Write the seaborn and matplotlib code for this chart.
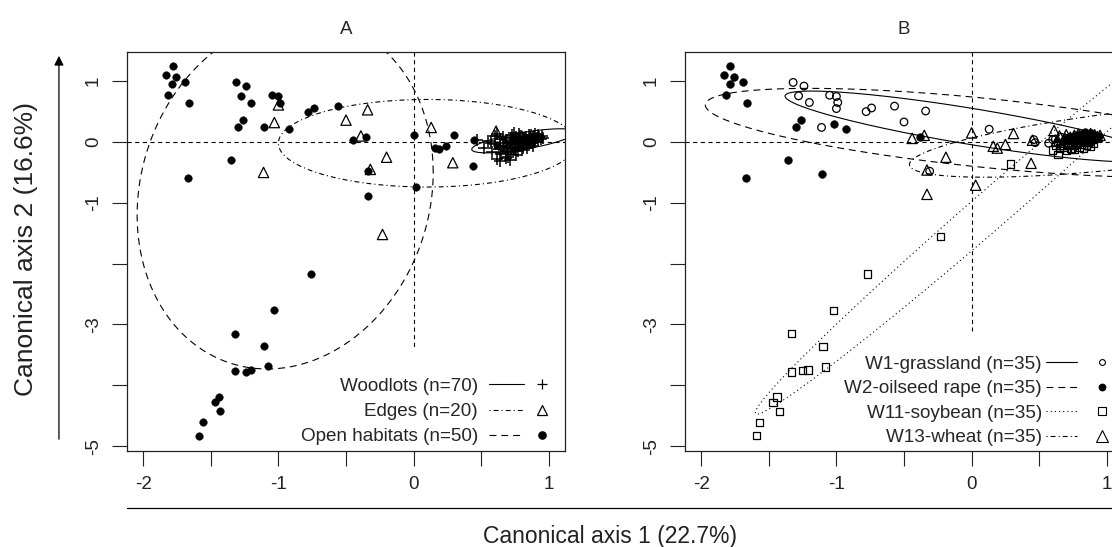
import numpy as np
import matplotlib
matplotlib.use("Agg")
import matplotlib.pyplot as plt
import seaborn as sns
from matplotlib.lines import Line2D
from matplotlib.patches import FancyArrowPatch
from matplotlib.legend_handler import HandlerTuple

# ---------------- panel A : habitats ----------------
woodlots_x = [0.47, 0.52, 0.55, 0.58, 0.60, 0.62, 0.63, 0.64, 0.65, 0.66,
              0.67, 0.68, 0.68, 0.69, 0.70, 0.71, 0.72, 0.72, 0.73, 0.74,
              0.75, 0.75, 0.76, 0.77, 0.77, 0.78, 0.79, 0.79, 0.80, 0.81,
              0.81, 0.82, 0.82, 0.83, 0.83, 0.84, 0.85, 0.85, 0.86, 0.86,
              0.87, 0.87, 0.88, 0.88, 0.89, 0.89, 0.90, 0.90, 0.91, 0.92,
              0.92, 0.93, 0.94, 0.95, 0.96, 0.64, 0.66, 0.70, 0.73, 0.76,
              0.60, 0.68, 0.78, 0.84, 0.88, 0.71, 0.80, 0.57, 0.62, 0.74]
woodlots_y = [0.03, -0.10, 0.01, -0.16, -0.04, -0.28, -0.12, 0.05, -0.20, -0.08,
              -0.02, -0.14, 0.04, -0.06, -0.18, 0.00, -0.10, 0.06, -0.04, -0.12,
              0.02, -0.08, 0.08, -0.02, -0.15, 0.04, -0.06, 0.10, 0.00, -0.09,
              0.06, 0.02, -0.04, 0.09, -0.01, 0.04, 0.11, -0.05, 0.07, 0.01,
              0.12, -0.02, 0.08, 0.03, 0.10, 0.05, 0.13, 0.00, 0.07, 0.11,
              0.03, 0.08, 0.05, 0.10, 0.07, -0.32, 0.09, -0.24, 0.12, -0.22,
              0.10, -0.26, 0.13, -0.10, -0.06, -0.30, -0.13, -0.02, 0.14, 0.15]

edges_x = [-1.00, -1.03, -1.11, -0.50, -0.34, -0.39, -0.32, -0.20, -0.23, 0.13,
           0.29, 0.61, 0.66, 0.70, 0.74, 0.78, 0.82, 0.86, 0.72, 0.80]
edges_y = [0.61, 0.32, -0.50, 0.36, 0.53, 0.10, -0.45, -0.25, -1.52, 0.24,
           -0.34, 0.18, 0.02, -0.08, 0.05, -0.03, 0.08, 0.04, -0.12, 0.10]

open_x = [-1.78, -1.83, -1.76, -1.79, -1.69, -1.82, -1.66, -1.31, -1.24, -1.28,
          -1.20, -1.26, -1.30, -1.11, -1.05, -1.00, -0.99, -0.92, -0.78, -0.74,
          -0.56, -0.45, -0.35, -1.35, -1.67, -0.34, -0.34, 0.00, 0.02, 0.16,
          0.19, 0.24, 0.30, 0.44, 0.45, -0.76, -1.03, -1.32, -1.11, -1.08,
          -1.32, -1.24, -1.20, -1.44, -1.47, -1.43, -1.56, -1.59, 0.62, 0.75]
open_y = [1.25, 1.10, 1.07, 0.95, 0.98, 0.77, 0.65, 0.98, 0.92, 0.76,
          0.65, 0.36, 0.24, 0.24, 0.77, 0.75, 0.65, 0.21, 0.50, 0.56,
          0.59, 0.03, 0.09, -0.30, -0.59, -0.48, -0.89, 0.12, -0.74, -0.09,
          -0.12, -0.06, 0.12, -0.39, 0.03, -2.17, -2.76, -3.15, -3.36, -3.68,
          -3.77, -3.78, -3.74, -4.19, -4.28, -4.43, -4.61, -4.84, -0.05, 0.05]

# ---------------- panel B : sites ----------------
w1_x = [-1.32, -1.24, -1.28, -1.20, -1.05, -1.00, -0.99, -1.00, -1.11, -0.78,
        -0.74, -0.57, -0.50, -0.34, -0.31, 0.13, 0.46, 0.47, 0.57, 0.60,
        0.62, 0.64, 0.66, 0.68, 0.70, 0.72, 0.74, 0.76, 0.78, 0.80,
        0.82, 0.84, 0.86, 0.88, 0.90]
w1_y = [0.98, 0.92, 0.76, 0.65, 0.77, 0.75, 0.65, 0.55, 0.24, 0.50,
        0.56, 0.59, 0.33, 0.51, -0.48, 0.21, 0.04, -0.01, -0.02, 0.04,
        0.05, -0.02, 0.08, 0.00, 0.06, -0.04, 0.07, 0.01, -0.03, 0.04,
        0.00, 0.06, 0.02, -0.01, 0.05]

w2_x = [-1.79, -1.83, -1.76, -1.79, -1.69, -1.82, -1.66, -1.30, -1.26, -1.02,
        -0.93, -0.38, -1.36, -1.67, -1.11,
        0.70, 0.72, 0.74, 0.76, 0.77, 0.78, 0.79, 0.80, 0.81, 0.82,
        0.83, 0.84, 0.85, 0.86, 0.87, 0.88, 0.89, 0.90, 0.92, 0.94]
w2_y = [1.25, 1.10, 1.07, 0.95, 0.98, 0.77, 0.65, 0.24, 0.36, 0.30,
        0.21, 0.09, -0.30, -0.59, -0.53,
        0.04, 0.08, 0.02, 0.10, 0.05, 0.12, 0.03, 0.08, 0.14, 0.05,
        0.10, 0.16, 0.07, 0.12, 0.04, 0.15, 0.09, 0.11, 0.08, 0.10]

w11_x = [-0.77, -1.02, -1.33, -1.10, -1.08, -1.33, -1.25, -1.21, -1.44, -1.47,
         -1.42, -1.57, -1.59, -0.23, 0.29, 0.60, 0.64, 0.74,
         0.62, 0.65, 0.66, 0.68, 0.70, 0.71, 0.73, 0.75, 0.76, 0.78,
         0.80, 0.81, 0.83, 0.85, 0.86, 0.88, 0.90]
w11_y = [-2.17, -2.77, -3.15, -3.36, -3.70, -3.78, -3.76, -3.75, -4.19, -4.28,
         -4.43, -4.61, -4.83, -1.55, -0.36, -0.13, -0.21, -0.12,
         -0.06, -0.10, -0.02, -0.08, -0.14, -0.04, -0.10, -0.06, -0.12, -0.02,
         -0.08, -0.04, -0.10, -0.05, 0.00, -0.07, -0.02]

w13_x = [-0.44, -0.35, 0.00, -0.19, -0.33, -0.33, 0.03, 0.16, 0.19, 0.25,
         0.31, 0.44, 0.45, 0.61,
         0.63, 0.65, 0.67, 0.69, 0.70, 0.72, 0.73, 0.75, 0.76, 0.78,
         0.79, 0.81, 0.82, 0.84, 0.85, 0.87, 0.88, 0.89, 0.91, 0.93, 0.95]
w13_y = [0.06, 0.11, 0.15, -0.25, -0.46, -0.86, -0.71, -0.07, -0.10, -0.04,
         0.14, -0.35, 0.03, 0.19,
         0.02, 0.10, -0.04, 0.06, 0.12, 0.00, 0.08, -0.02, 0.11, 0.05,
         0.13, 0.02, 0.09, 0.12, 0.03, 0.10, 0.14, 0.06, 0.12, 0.09, 0.11]

# ellipses: centre, two conjugate semi-axes (data units)
ell_woodlots = dict(c=(0.815, 0.02), u=(0.385, 0.14), v=(0.0, 0.14))
ell_edges = dict(c=(0.10, -0.02), u=(1.10, 0.0), v=(0.0, 0.72))
ell_open = dict(c=(-0.95, -0.85), u=(1.095, 0.35), v=(0.0, 2.86))
ell_w1 = dict(c=(0.0, 0.255), u=(1.38, -0.50), v=(0.0, 0.30))
ell_w2 = dict(c=(0.10, 0.15), u=(2.07, -0.46), v=(0.0, 0.57))
ell_w11 = dict(c=(0.20, -1.00), u=(1.80, 3.45), v=(0.0, 0.41))
ell_w13 = dict(c=(1.24, 0.055), u=(1.70, 0.425), v=(0.0, 0.47))

# end of the vertical reference axis drawn in each panel
vline_end_a = -3.37
vline_end_b = -3.10

labels_a = ["Woodlots (n=70)", "Edges (n=20)", "Open habitats (n=50)"]
labels_b = ["W1-grassland (n=35)", "W2-oilseed rape (n=35)",
            "W11-soybean (n=35)", "W13-wheat (n=35)"]

xticks = [-2, -1.5, -1, -0.5, 0, 0.5, 1]
xticklabels = ["-2", "", "-1", "", "0", "", "1"]
yticks = [-5, -4, -3, -2, -1, 0, 1]
yticklabels = ["-5", "", "-3", "", "-1", "0", "1"]

SOLID = dict(linestyle="-")
DASHED = dict(linestyle=(0, (5.0, 3.5)))
DOTTED = dict(linestyle=(0, (0.8, 2.2)))
DOTDASH = dict(linestyle=(0, (0.8, 2.2, 3.5, 2.2)))


def ellipse_xy(c, u, v, n=300):
    t = np.linspace(0, 2 * np.pi, n)
    x = c[0] + u[0] * np.cos(t) + v[0] * np.sin(t)
    y = c[1] + u[1] * np.cos(t) + v[1] * np.sin(t)
    return x, y


def draw_points(ax, x, y, marker, size, filled):
    if filled:
        sns.scatterplot(x=x, y=y, ax=ax, marker=marker, s=size, color="black",
                        edgecolor="black", linewidth=0.3, legend=False, zorder=3)
    elif marker == "+":
        sns.scatterplot(x=x, y=y, ax=ax, marker=marker, s=size, color="black",
                        linewidth=1.1, legend=False, zorder=3)
    else:
        sns.scatterplot(x=x, y=y, ax=ax, marker=marker, s=size, color="black",
                        facecolor="none", edgecolor="black", linewidth=0.9,
                        legend=False, zorder=3)


def draw_ellipse(ax, ell, style):
    ex, ey = ellipse_xy(**ell)
    ax.plot(ex, ey, color="black", lw=0.8, **style)


def style_axes(ax, vline_end, title):
    ax.set_xlim(-2.12, 1.12)
    ax.set_ylim(-5.08, 1.48)
    ax.axhline(0, color="black", lw=0.8, linestyle=(0, (3, 2.5)), zorder=1)
    ax.plot([0, 0], [1.48, vline_end], color="black", lw=0.8,
            linestyle=(0, (3, 2.5)), zorder=1)
    ax.set_xticks(xticks)
    ax.set_xticklabels(xticklabels)
    ax.set_yticks(yticks)
    ax.set_yticklabels(yticklabels, rotation=90, va="center")
    ax.tick_params(axis="both", direction="out", length=11, width=0.8,
                   pad=7, labelsize=13.5, colors="#222222")
    for sp in ax.spines.values():
        sp.set_visible(True)
        sp.set_color("#222222")
        sp.set_linewidth(0.9)
    ax.set_xlabel("")
    ax.set_ylabel("")
    ax.set_title(title, fontsize=13.5, pad=13)


sns.set_theme(style="ticks")
plt.rcParams["font.family"] = ["Liberation Sans", "DejaVu Sans"]
plt.rcParams["lines.scale_dashes"] = False

fig = plt.figure(figsize=(11.12, 5.47), dpi=100)
ax_a = fig.add_axes([0.1142, 0.1755, 0.3939, 0.7294])
ax_b = fig.add_axes([0.6160, 0.1755, 0.3939, 0.7294])

# ---- panel A ----
draw_ellipse(ax_a, ell_open, DASHED)
draw_ellipse(ax_a, ell_edges, DOTDASH)
draw_ellipse(ax_a, ell_woodlots, SOLID)
draw_points(ax_a, open_x, open_y, "o", 30, True)
draw_points(ax_a, edges_x, edges_y, "^", 55, False)
draw_points(ax_a, woodlots_x, woodlots_y, "+", 65, False)
style_axes(ax_a, vline_end_a, "A")

handles_a = [
    (Line2D([], [], color="black", lw=0.8, **SOLID),
     Line2D([], [], color="black", marker="+", ms=7.5, mew=0.9, ls="none")),
    (Line2D([], [], color="black", lw=0.8, **DOTDASH),
     Line2D([], [], color="black", marker="^", ms=7.5, mfc="none", mew=0.9, ls="none")),
    (Line2D([], [], color="black", lw=0.8, **DASHED),
     Line2D([], [], color="black", marker="o", ms=5.2, ls="none")),
]
ax_a.legend(handles_a, labels_a, loc="lower right", frameon=False,
            markerfirst=False, fontsize=13.6, handlelength=3.7,
            handletextpad=0.6, labelspacing=0.42, borderaxespad=0.1,
            borderpad=0.2, numpoints=1,
            handler_map={tuple: HandlerTuple(ndivide=2, pad=0.05)})

# ---- panel B ----
draw_ellipse(ax_b, ell_w2, DASHED)
draw_ellipse(ax_b, ell_w11, DOTTED)
draw_ellipse(ax_b, ell_w13, DOTDASH)
draw_ellipse(ax_b, ell_w1, SOLID)
draw_points(ax_b, w2_x, w2_y, "o", 32, True)
draw_points(ax_b, w1_x, w1_y, "o", 30, False)
draw_points(ax_b, w11_x, w11_y, "s", 28, False)
draw_points(ax_b, w13_x, w13_y, "^", 55, False)
style_axes(ax_b, vline_end_b, "B")

handles_b = [
    (Line2D([], [], color="black", lw=0.8, **SOLID),
     Line2D([], [], color="black", marker="o", ms=4.2, mfc="none", mew=0.8, ls="none")),
    (Line2D([], [], color="black", lw=0.8, **DASHED),
     Line2D([], [], color="black", marker="o", ms=4.6, ls="none")),
    (Line2D([], [], color="black", lw=0.8, **DOTTED),
     Line2D([], [], color="black", marker="s", ms=6.0, mfc="none", mew=0.8, ls="none")),
    (Line2D([], [], color="black", lw=0.8, **DOTDASH),
     Line2D([], [], color="black", marker="^", ms=8.0, mfc="none", mew=0.8, ls="none")),
]
ax_b.legend(handles_b, labels_b, loc="lower right", frameon=False,
            markerfirst=False, fontsize=13.6, handlelength=3.85,
            handletextpad=0.2, labelspacing=0.38, borderaxespad=0.1,
            borderpad=0.15, numpoints=1,
            handler_map={tuple: HandlerTuple(ndivide=2, pad=0.5)})

# ---- shared axis labels with arrows ----
fig.add_artist(Line2D([0.114, 1.02], [0.0704, 0.0704], transform=fig.transFigure,
                      color="black", lw=0.9))
fig.add_artist(FancyArrowPatch((0.053, 0.192), (0.053, 0.903),
                               transform=fig.transFigure, arrowstyle="-|>",
                               mutation_scale=14, lw=0.9, color="black"))
fig.text(0.5486, 0.0183, "Canonical axis 1 (22.7%)", ha="center", va="center",
         fontsize=16.5, color="#222222")
fig.text(0.0234, 0.545, "Canonical axis 2 (16.6%)", ha="center", va="center",
         rotation=90, fontsize=19, color="#222222")

fig.savefig("out.png", dpi=100)
